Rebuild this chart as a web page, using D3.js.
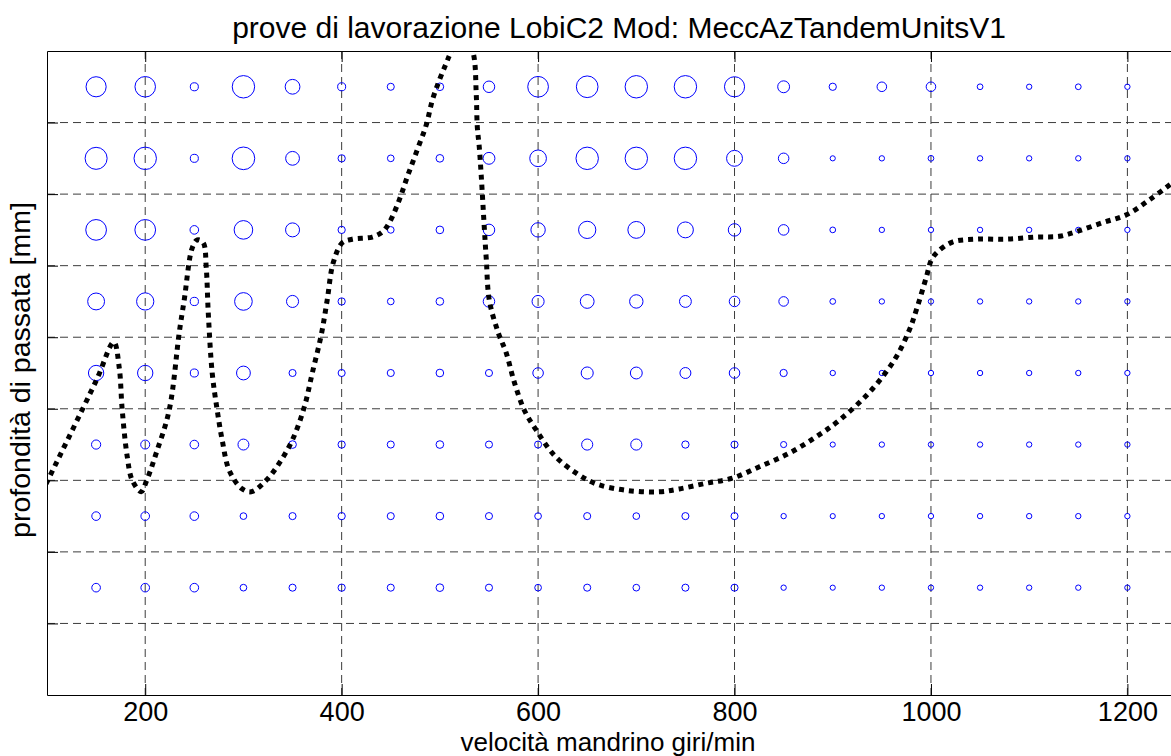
<!DOCTYPE html>
<html>
<head>
<meta charset="utf-8">
<script src="https://cdn.jsdelivr.net/npm/d3@7/dist/d3.min.js"></script>
<style>
    body { margin: 0; background: #fff; }
    svg { display: block; font-family: "Liberation Sans", Arial, Helvetica, sans-serif; }
    .grid line { stroke: #3c3c3c; stroke-width: 1; stroke-dasharray: 8,5; }
    .bubble { fill: none; stroke: #0000ff; stroke-width: 1; }
    .curve { fill: none; stroke: #000; stroke-width: 5; stroke-dasharray: 5,5; }
</style>
</head>
<body>
<svg id="chart" width="1171" height="756"></svg>
<script>
// spindle speeds (columns) and cut depths (rows, top to bottom)
var speeds = [150, 200, 250, 300, 350, 400, 450, 500, 550, 600, 650, 700,
              750, 800, 850, 900, 950, 1000, 1050, 1100, 1150, 1200];
var depths = [8.5, 7.5, 6.5, 5.5, 4.5, 3.5, 2.5, 1.5];

// marker sizes, one array per row
var size85 = [10.5, 10.7, 4.2, 11.7, 7.7, 4.2, 3.7, 4, 6, 10.8, 11.3, 11.7, 11.7, 10.5, 6.2, 3.8, 5, 5, 3, 2.8, 3, 2.8];
var size75 = [11.5, 11.7, 4.2, 11.8, 7.2, 3.8, 3.5, 4, 6.2, 8.7, 11.7, 11.7, 11.7, 8.3, 5.5, 2.7, 2.8, 3, 2.8, 2.8, 2.8, 2.8];
var size65 = [10.8, 10.8, 4.5, 9.7, 7.3, 3.8, 3.5, 4, 6, 7.5, 9, 8.8, 8.3, 6.5, 5.5, 3, 2.8, 2.8, 2.8, 2.8, 2.8, 2.8];
var size55 = [8.8, 9, 4.3, 9.2, 6.3, 3.8, 3.5, 4, 6, 6.3, 7.2, 7, 6.2, 5.5, 5, 3, 2.8, 2.8, 2.8, 2.8, 2.8, 2.8];
var size45 = [8, 8, 4.2, 7.2, 3.7, 3.7, 3.7, 4, 3.7, 5.5, 6.3, 6.2, 5.7, 5.5, 3.8, 2.8, 2.8, 2.8, 2.8, 2.8, 2.8, 2.8];
var size35 = [4.8, 4.7, 4.5, 5.7, 4, 3.8, 3.7, 4, 3.7, 3.7, 5.8, 5.8, 3.8, 3.7, 3.2, 2.7, 2.8, 2.8, 2.8, 2.8, 2.8, 2.8];
var size25 = [4.5, 4.5, 4.5, 3.5, 3.7, 3.8, 3.7, 4, 3.7, 3.5, 3.7, 3.5, 3.7, 3.7, 2.8, 2.7, 2.8, 2.8, 2.8, 2.8, 2.8, 2.8];
var size15 = [4.5, 4.5, 4.5, 3.5, 3.7, 3.8, 3.7, 4, 3.7, 3.5, 3.7, 3.5, 3.7, 3.7, 2.8, 2.7, 2.8, 2.8, 2.8, 2.8, 2.8, 2.8];
var sizeRows = [size85, size75, size65, size55, size45, size35, size25, size15];

// stability limit curve
var limitX = [99, 150, 168, 173.5, 176.6, 181.7, 186.8, 195.9, 201, 211.2, 224.4, 234.6, 239.7, 247.9,
              253, 259.1, 262.1, 264.2, 268.2, 273.3, 278.4, 285.5, 297.8, 307.9, 323.2, 336.5, 349.7,
              361.9, 370.1, 379.2, 385.3, 391.4, 400.6, 410.8, 431.2, 441.3, 448.5, 458.7, 466.8, 477,
              486.2, 492.3, 499.4, 506.5, 511.6, 522.8, 534, 537, 538.1, 540.1, 542.2, 545.2, 547.3,
              550.3, 559.5, 567.6, 575.8, 586, 598.2, 616.5, 638.9, 659.3, 689.8, 723.4, 743.8, 771.3,
              797.8, 825.3, 855.8, 883.3, 906.7, 937.3, 962.7, 978, 985.1, 995.3, 1000.4, 1006.5,
              1021.8, 1046.2, 1076.8, 1107.3, 1130.7, 1149.1, 1174.5, 1199, 1222.4, 1250];
var limitY = [2.95, 4.39, 4.93, 4.58, 3.98, 3.33, 3.0, 2.84, 2.98, 3.38, 3.98, 5.06, 5.52, 6.25,
              6.36, 6.32, 5.98, 5.34, 4.5, 3.98, 3.56, 3.14, 2.89, 2.84, 3.0, 3.24, 3.56,
              4.02, 4.5, 5.03, 5.52, 6.04, 6.32, 6.37, 6.4, 6.47, 6.6, 6.92, 7.24, 7.62,
              7.97, 8.31, 8.59, 8.83, 9.0, 9.35, 8.97, 8.41, 7.94, 7.66, 7.24, 6.54, 6.08,
              5.52, 5.06, 4.78, 4.37, 3.98, 3.7, 3.35, 3.1, 2.95, 2.86, 2.84, 2.88, 2.96,
              3.03, 3.19, 3.38, 3.61, 3.84, 4.23, 4.68, 5.1, 5.38, 5.84, 6.08, 6.19,
              6.33, 6.37, 6.37, 6.4, 6.41, 6.48, 6.6, 6.71, 6.92, 7.2];

var xTicks = [200, 400, 600, 800, 1000, 1200];
var yGrid = [1, 2, 3, 4, 5, 6, 7, 8];
var titleText = "prove di lavorazione LobiC2 Mod: MeccAzTandemUnitsV1";
var xLabelText = "velocità mandrino giri/min";
var yLabelText = "profondità di passata [mm]";

var config = { left: 47, right: 1176.5, top: 51, bottom: 695 };

var svg = d3.select("#chart");
var x = d3.scaleLinear().domain([100, 1250]).range([config.left, config.right]);
var y = d3.scaleLinear().domain([0, 9]).range([config.bottom, config.top]);
var r = d3.scaleLinear().domain([0, 12]).range([0, 11.5]);

svg.append("clipPath").attr("id", "plotClip")
    .append("rect")
    .attr("x", config.left)
    .attr("y", config.top)
    .attr("width", config.right - config.left)
    .attr("height", config.bottom - config.top);

// grid
var grid = svg.append("g").attr("class", "grid");
grid.selectAll("line.h")
    .data(yGrid)
    .enter().append("line")
    .attr("class", "h")
    .attr("x1", config.left).attr("x2", config.right)
    .attr("y1", function(d) { return y(d) })
    .attr("y2", function(d) { return y(d) });
grid.selectAll("line.v")
    .data(xTicks)
    .enter().append("line")
    .attr("class", "v")
    .attr("y1", config.top).attr("y2", config.bottom)
    .attr("x1", function(d) { return x(d) })
    .attr("x2", function(d) { return x(d) });

// axes box with inward ticks
var xAxisBottom = d3.axisBottom(x).tickValues(xTicks).tickFormat(d3.format("d"))
    .tickSizeInner(-11).tickSizeOuter(0).tickPadding(7);
var xAxisTop = d3.axisTop(x).tickValues(xTicks).tickSizeInner(-11).tickSizeOuter(0).tickFormat("");
var yAxisLeft = d3.axisLeft(y).tickValues(yGrid).tickSizeInner(-11).tickSizeOuter(0).tickFormat("");

var gx = svg.append("g")
    .attr("transform", "translate(0," + config.bottom + ")")
    .call(xAxisBottom);
svg.append("g")
    .attr("transform", "translate(0," + config.top + ")")
    .call(xAxisTop);
svg.append("g")
    .attr("transform", "translate(" + config.left + ",0)")
    .call(yAxisLeft);

svg.selectAll(".domain").attr("stroke", "#000").attr("stroke-width", 1);
svg.selectAll(".tick line").attr("stroke", "#000");
gx.selectAll(".tick text")
    .attr("fill", "#000")
    .style("font-size", "27px")
    .style("font-family", "'Liberation Sans', Arial, sans-serif");

// bubbles
var cells = [];
depths.forEach(function(depth, i) {
    speeds.forEach(function(speed, j) {
        cells.push({ speed: speed, depth: depth, size: sizeRows[i][j] });
    });
});
svg.append("g")
    .selectAll("circle")
    .data(cells)
    .enter().append("circle")
    .attr("class", "bubble")
    .attr("cx", function(d) { return x(d.speed) })
    .attr("cy", function(d) { return y(d.depth) })
    .attr("r", function(d) { return r(d.size) });

// limit curve
var line = d3.line()
    .x(function(d) { return x(d[0]) })
    .y(function(d) { return y(d[1]) })
    .curve(d3.curveCatmullRom.alpha(0.5));
svg.append("path")
    .datum(d3.zip(limitX, limitY))
    .attr("class", "curve")
    .attr("clip-path", "url(#plotClip)")
    .attr("d", line);

// titles
svg.append("text")
    .attr("x", 619).attr("y", 38)
    .attr("text-anchor", "middle")
    .style("font-size", "30px")
    .text(titleText);
svg.append("text")
    .attr("x", 608).attr("y", 751)
    .attr("text-anchor", "middle")
    .style("font-size", "26px")
    .text(xLabelText);
svg.append("text")
    .attr("transform", "translate(30,370) rotate(-90)")
    .attr("text-anchor", "middle")
    .style("font-size", "28.5px")
    .text(yLabelText);
</script>
</body>
</html>
